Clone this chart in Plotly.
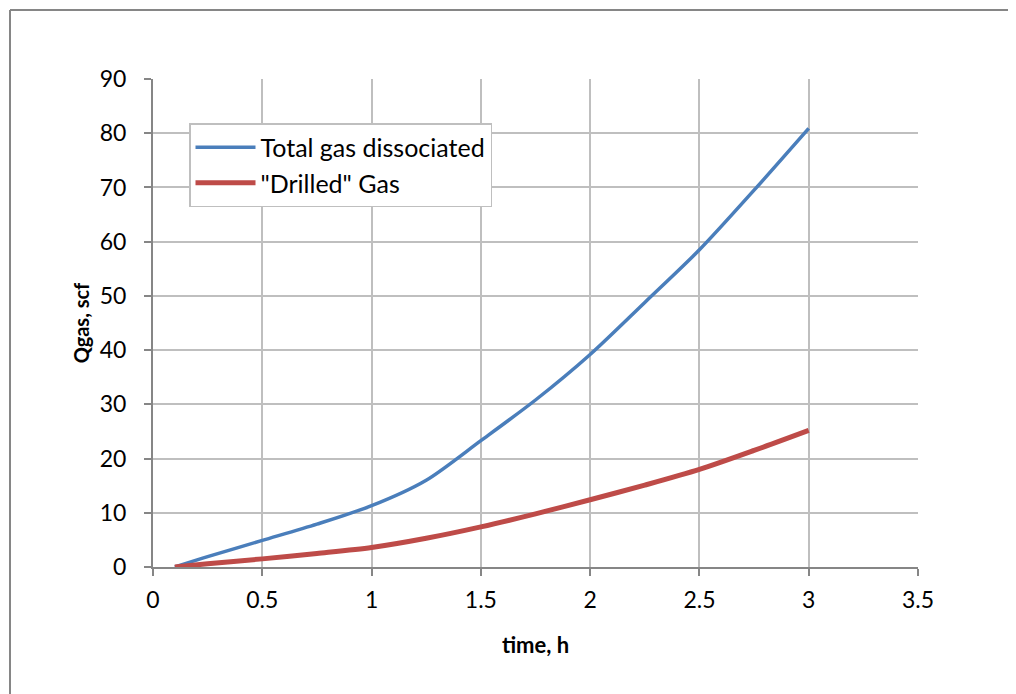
import plotly.graph_objects as go

time_h = [0.1, 0.25, 0.5, 0.75, 1.0, 1.25, 1.5, 1.75, 2.0, 2.25, 2.5, 2.75, 3.0]
total_gas = [0.0, 1.9, 4.9, 7.9, 11.3, 16.0, 23.3, 30.8, 39.2, 48.8, 58.5, 69.5, 80.9]
drilled_gas = [0.0, 0.6, 1.5, 2.5, 3.6, 5.3, 7.4, 9.8, 12.4, 15.1, 18.0, 21.5, 25.2]

x_ticks = [0, 0.5, 1, 1.5, 2, 2.5, 3, 3.5]
x_labels = ["0", "0.5", "1", "1.5", "2", "2.5", "3", "3.5"]
y_ticks = [0, 10, 20, 30, 40, 50, 60, 70, 80, 90]

FONT = "Lato"
AXIS_C = "#868686"
GRID_C = "#BFBFBF"

fig = go.Figure()
fig.add_trace(go.Scatter(x=time_h, y=total_gas, mode="lines", name="Total gas dissociated",
                         line=dict(color="#4A7EBB", width=3.5, shape="spline", smoothing=0.8)))
fig.add_trace(go.Scatter(x=time_h, y=drilled_gas, mode="lines", name='"Drilled" Gas',
                         line=dict(color="#BE4B48", width=5, shape="spline", smoothing=0.8)))

# page has an 8px body margin; target pixel positions are page coordinates
OFF = 8
W, H = 1016, 694
L = 153 - OFF
T = 79 - OFF
R = W - (918 - OFF)
B = H - (567 - OFF)
pw, ph = W - L - R, H - T - B

def px_to_paper_x(px):
    return (px - OFF - L) / pw

def px_to_paper_y(py):
    return (H - B - (py - OFF)) / ph

fig.add_shape(type="line", xref="paper", yref="paper",
              x0=px_to_paper_x(10), x1=px_to_paper_x(1040),
              y0=px_to_paper_y(10), y1=px_to_paper_y(10),
              line=dict(color=AXIS_C, width=2))
fig.add_shape(type="line", xref="paper", yref="paper",
              x0=px_to_paper_x(10), x1=px_to_paper_x(10),
              y0=px_to_paper_y(10), y1=px_to_paper_y(720),
              line=dict(color=AXIS_C, width=2))

fig.update_layout(
    width=W, height=H,
    margin=dict(l=L, r=R, t=T, b=B, autoexpand=False),
    paper_bgcolor="white", plot_bgcolor="white",
    font=dict(family=FONT, size=23, color="black"),
    legend=dict(x=px_to_paper_x(189), y=px_to_paper_y(123), xanchor="left", yanchor="top",
                bgcolor="white", bordercolor=GRID_C, borderwidth=1.5, itemwidth=60,
                font=dict(family=FONT, size=25, color="black")),
    xaxis=dict(range=[0, 3.5], tickvals=x_ticks, ticktext=x_labels,
               showgrid=True, gridcolor=GRID_C, gridwidth=1.5,
               showline=True, linecolor=AXIS_C, linewidth=2,
               ticks="outside", ticklen=7, tickcolor=AXIS_C, tickwidth=2,
               zeroline=False, ticklabelstandoff=4,
               title=dict(text="<b>time, h</b>", font=dict(family=FONT, size=22), standoff=26)),
    yaxis=dict(range=[0, 90], tickvals=y_ticks,
               showgrid=True, gridcolor=GRID_C, gridwidth=1.5,
               showline=True, linecolor=AXIS_C, linewidth=2,
               ticks="outside", ticklen=7, tickcolor=AXIS_C, tickwidth=2,
               zeroline=False, ticklabelstandoff=13,
               title=dict(text="<b>Qgas, scf</b>", font=dict(family=FONT, size=20), standoff=5)),
)

fig.write_html("out.html")
